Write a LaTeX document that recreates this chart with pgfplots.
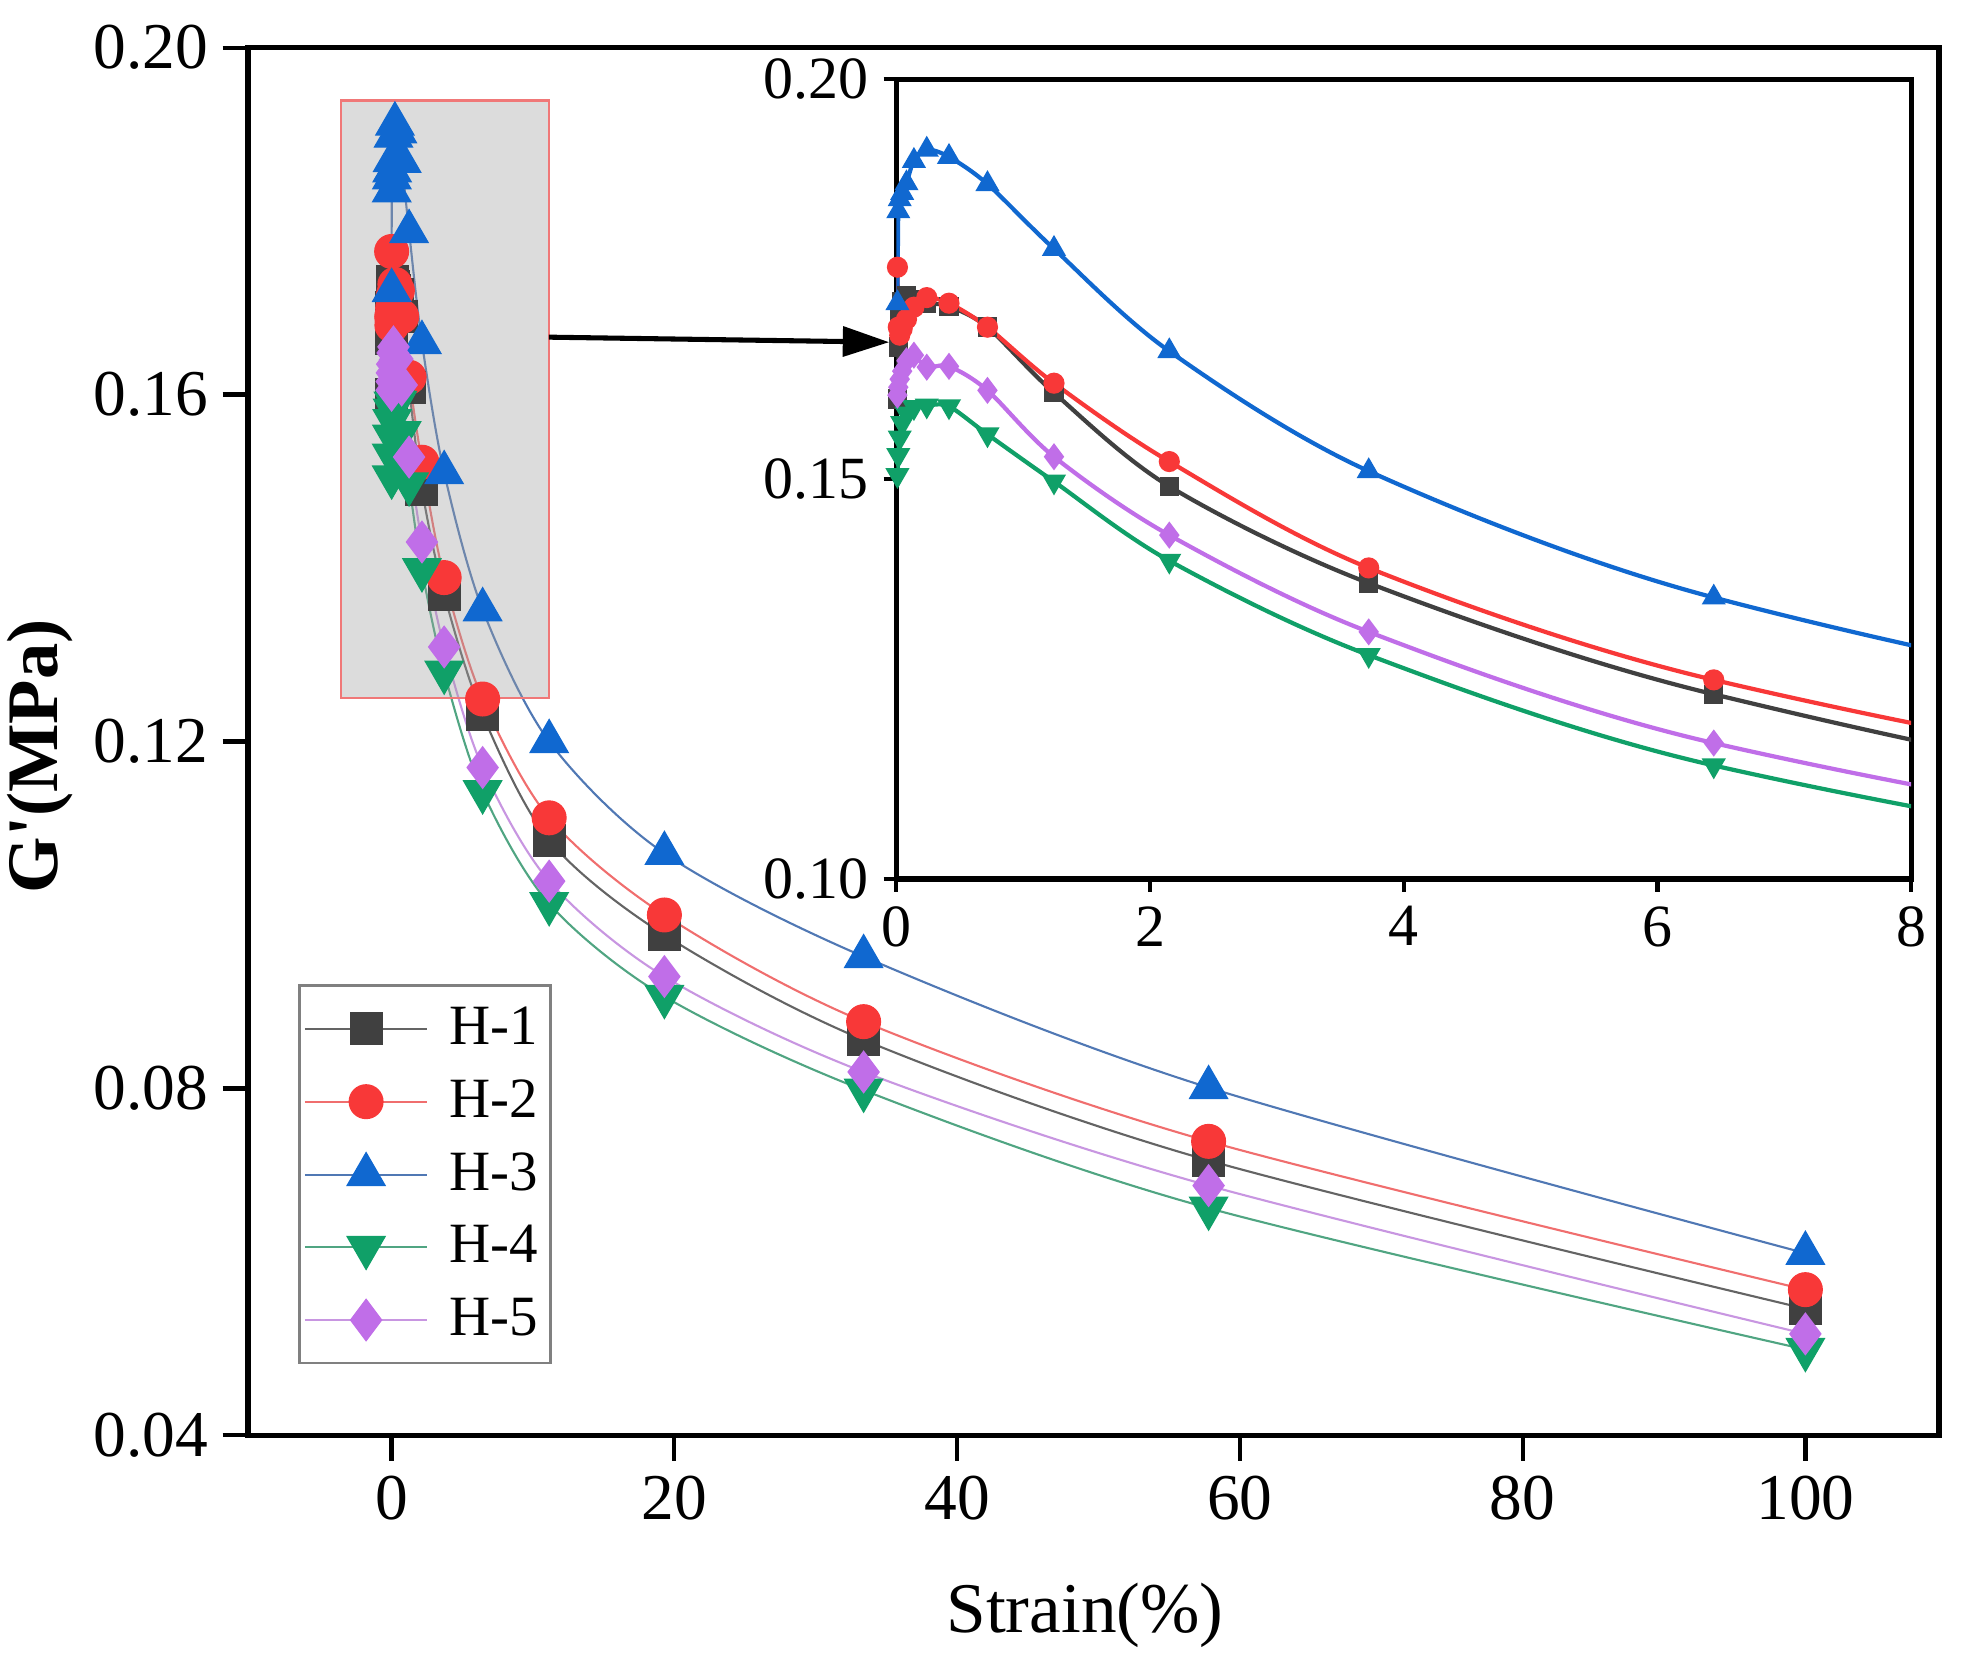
\documentclass[border=0pt]{standalone}
\usepackage{fontspec}
\setmainfont{Liberation Serif}
\usepackage{pgfplots}
\pgfplotsset{compat=1.18}
\usepackage{pgfplotstable}
\usetikzlibrary{calc,arrows.meta}

\definecolor{cA}{RGB}{64,64,64}
\definecolor{cB}{RGB}{248,56,56}
\definecolor{cC}{RGB}{16,104,208}
\definecolor{cD}{RGB}{16,160,104}
\definecolor{cE}{RGB}{192,110,232}
\definecolor{lA}{RGB}{100,100,100}
\definecolor{lB}{RGB}{240,110,110}
\definecolor{lC}{RGB}{80,120,180}
\definecolor{lD}{RGB}{80,165,130}
\definecolor{lE}{RGB}{200,150,225}

\pgfplotstableread{
x y
0.0089 0.1600
0.0155 0.1665
0.0268 0.1700
0.0463 0.1722
0.0801 0.1730
0.1387 0.1725
0.2400 0.1720
0.4153 0.1716
0.7186 0.1690
1.243 0.1608
2.152 0.1491
3.724 0.1370
6.444 0.1231
11.15 0.1086
19.30 0.0977
33.39 0.0856
57.79 0.0717
100 0.0546
}\tHa
\pgfplotstableread{
x y
0.0089 0.1765
0.0155 0.1690
0.0268 0.1680
0.0463 0.1688
0.0801 0.1700
0.1387 0.1715
0.2400 0.1727
0.4153 0.1720
0.7186 0.1690
1.243 0.1620
2.152 0.1522
3.724 0.1389
6.444 0.1249
11.15 0.1112
19.30 0.1000
33.39 0.0877
57.79 0.0739
100 0.0568
}\tHb
\pgfplotstableread{
x y
0.0089 0.1720
0.0155 0.1835
0.0268 0.1850
0.0463 0.1858
0.0801 0.1870
0.1387 0.1898
0.2400 0.1912
0.4153 0.1903
0.7186 0.1869
1.243 0.1788
2.152 0.1660
3.724 0.1510
6.444 0.1352
11.15 0.1200
19.30 0.1071
33.39 0.0952
57.79 0.0801
100 0.0610
}\tHc
\pgfplotstableread{
x y
0.0089 0.1505
0.0155 0.1530
0.0268 0.1552
0.0463 0.1570
0.0801 0.1582
0.1387 0.1590
0.2400 0.1592
0.4153 0.1591
0.7186 0.1556
1.243 0.1497
2.152 0.1398
3.724 0.1280
6.444 0.1142
11.15 0.1013
19.30 0.0906
33.39 0.0798
57.79 0.0662
100 0.0499
}\tHd
\pgfplotstableread{
x y
0.0089 0.1605
0.0155 0.1615
0.0268 0.1625
0.0463 0.1635
0.0801 0.1648
0.1387 0.1655
0.2400 0.1640
0.4153 0.1641
0.7186 0.1611
1.243 0.1528
2.152 0.1430
3.724 0.1309
6.444 0.1170
11.15 0.1039
19.30 0.0929
33.39 0.0819
57.79 0.0688
100 0.0517
}\tHe

\begin{document}
\begin{tikzpicture}
\begin{axis}[
  name=main,
  width=400.9pt, height=329.0pt, scale only axis,
  xmin=-10.15, xmax=109.45, ymin=0.04, ymax=0.20,
  xtick={0,20,40,60,80,100},
  ytick={0.04,0.08,0.12,0.16,0.20},
  tick align=outside, tick pos=left,
  major tick length=6pt,
  axis line style={line width=1.2pt},
  every tick/.style={black, line width=1pt},
  /pgf/number format/assume math mode=true,
  tick label style={font=\fontsize{15.5}{18}\selectfont},
  yticklabel style={/pgf/number format/.cd, fixed, fixed zerofill, precision=2},
  xlabel={Strain(\%)},
  ylabel={\textbf{G\textquotesingle(MPa)}},
  x label style={font=\fontsize{16.9}{19}\selectfont, at={(axis description cs:0.5,0)}, anchor=center, yshift=-42.6pt, xshift=-2pt},
  y label style={font=\fontsize{17.2}{20}\selectfont, at={(axis description cs:0,0.5)}, anchor=center, yshift=49.3pt, xshift=-3.5pt},
  legend style={at={(0.0298,0.3249)}, anchor=north west, draw=gray, line width=0.6pt,
    font=\fontsize{13.5}{16}\selectfont, inner xsep=1pt, inner ysep=3pt, row sep=2.85pt, column sep=3pt},
  legend cell align=left,
  legend image code/.code={\draw[mark repeat=2, mark phase=2, #1] plot coordinates {(0pt,0pt) (14.5pt,0pt) (29pt,0pt)};},
]
\addplot[lA, line width=0.5pt, smooth, mark=square*, mark size=3.75pt, mark options={fill=cA, draw=cA, line width=0.3pt}] table[x=x,y=y] {\tHa};
\addlegendentry{H-1}
\addplot[lB, line width=0.5pt, smooth, mark=*, mark size=4pt, mark options={fill=cB, draw=cB, line width=0.3pt}] table[x=x,y=y] {\tHb};
\addlegendentry{H-2}
\addplot[lC, line width=0.5pt, smooth, mark=triangle*, mark size=5.2pt, mark options={fill=cC, draw=cC, line width=0.3pt}] table[x=x,y=y] {\tHc};
\addlegendentry{H-3}
\addplot[lD, line width=0.5pt, smooth, mark=triangle*, mark size=5.2pt, mark options={fill=cD, draw=cD, line width=0.3pt, rotate=180}] table[x=x,y=y] {\tHd};
\addlegendentry{H-4}
\addplot[lE, line width=0.5pt, smooth, mark=diamond*, mark size=4.9pt, mark options={fill=cE, draw=cE, line width=0.3pt}] table[x=x,y=y] {\tHe};
\addlegendentry{H-5}
\draw[draw={rgb,255:red,240;green,120;blue,120}, line width=0.6pt,
      fill={rgb,255:red,160;green,160;blue,160}, fill opacity=0.37]
  (axis cs:-3.56,0.125) rectangle (axis cs:11.13,0.1939);
\draw[black, line width=1.2pt, -{Triangle[length=11pt,width=7pt]}]
  (axis cs:11.13,0.16662) -- (axis cs:35.2,0.16604);
\end{axis}

\begin{axis}[
  name=inset,
  at={($(main.south west)+(153.7pt,131.9pt)$)}, anchor=south west,
  width=240.6pt, height=189.6pt, scale only axis,
  xmin=0, xmax=8, ymin=0.10, ymax=0.20,
  xtick={0,2,4,6,8},
  ytick={0.10,0.15,0.20},
  tick align=outside, tick pos=left,
  major tick length=3pt,
  axis line style={line width=1.2pt},
  every tick/.style={black, line width=1pt},
  axis background/.style={fill=white},
  /pgf/number format/assume math mode=true,
  tick label style={font=\fontsize{14.2}{17}\selectfont},
  yticklabel style={/pgf/number format/.cd, fixed, fixed zerofill, precision=2},
]
\addplot[cA, line width=1pt, smooth, mark=square*, mark size=1.8pt, mark options={fill=cA, draw=cA}] table[x=x,y=y] {\tHa};
\addplot[cB, line width=1pt, smooth, mark=*, mark size=2pt, mark options={fill=cB, draw=cB}] table[x=x,y=y] {\tHb};
\addplot[cC, line width=1pt, smooth, mark=triangle*, mark size=2.3pt, mark options={fill=cC, draw=cC}] table[x=x,y=y] {\tHc};
\addplot[cD, line width=1pt, smooth, mark=triangle*, mark size=2.3pt, mark options={fill=cD, draw=cD, rotate=180}] table[x=x,y=y] {\tHd};
\addplot[cE, line width=1pt, smooth, mark=diamond*, mark size=2.4pt, mark options={fill=cE, draw=cE}] table[x=x,y=y] {\tHe};
\end{axis}

\pgfresetboundingbox
\path ($(main.south west)+(-58.8pt,-55.9pt)$) rectangle ($(main.north east)+(8.3pt,11.3pt)$);
\end{tikzpicture}
\end{document}
